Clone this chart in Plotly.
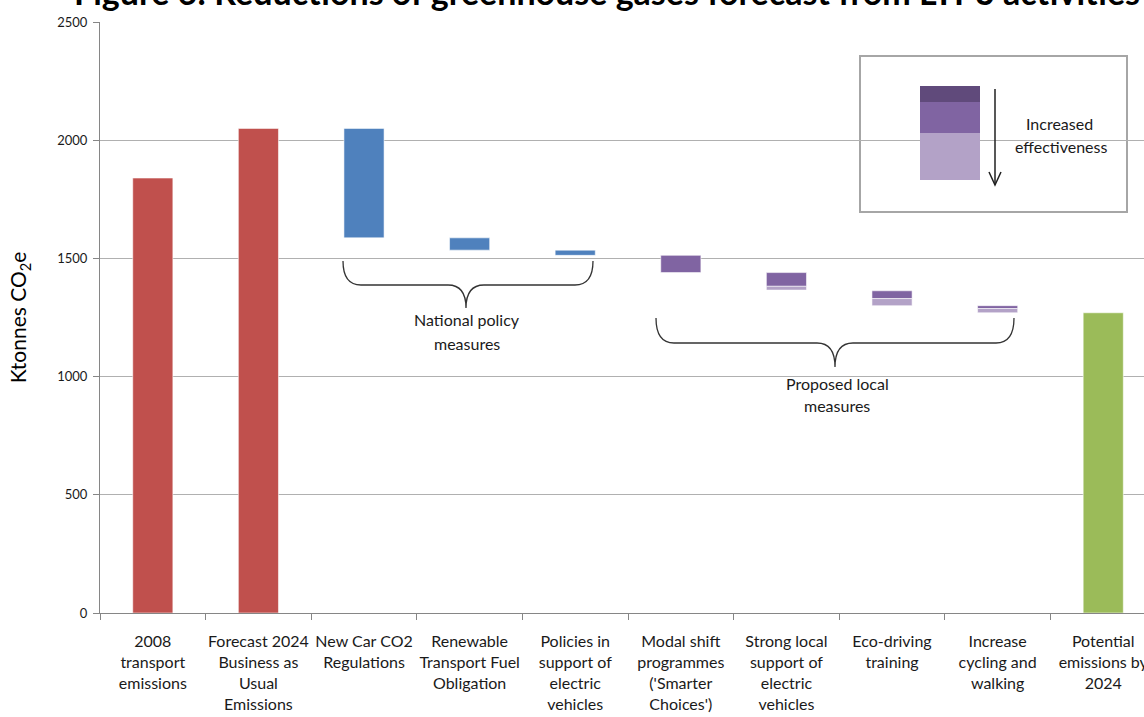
import plotly.graph_objects as go

# ---------------- data ----------------
categories = [
    "2008<br>transport<br>emissions",
    "Forecast 2024<br>Business as<br>Usual<br>Emissions",
    "New Car CO2<br>Regulations",
    "Renewable<br>Transport Fuel<br>Obligation",
    "Policies in<br>support of<br>electric<br>vehicles",
    "Modal shift<br>programmes<br>('Smarter<br>Choices')",
    "Strong local<br>support of<br>electric<br>vehicles",
    "Eco-driving<br>training",
    "Increase<br>cycling and<br>walking",
    "Potential<br>emissions by<br>2024",
]

# totals (full bars)
total_cats = [categories[0], categories[1]]
total_values = [1840, 2050]
final_cats = [categories[9]]
final_values = [1270]

# national policy measures (floating bars): top and bottom
national_cats = categories[2:5]
national_top = [2050, 1587, 1535]
national_bottom = [1587, 1535, 1513]

# proposed local measures: top, bottom of core part, bottom of lighter part
local_cats = categories[5:9]
local_top = [1513, 1440, 1363, 1300]
local_mid = [1440, 1382, 1330, 1288]
local_low_cats = categories[6:9]
local_low_top = [1382, 1330, 1288]
local_low_bottom = [1366, 1300, 1270]

y_ticks = [0, 500, 1000, 1500, 2000, 2500]

RED = "#C0504D"
BLUE = "#4F81BD"
PURPLE = "#8064A2"
PURPLE_LIGHT = "#B3A2C7"
PURPLE_DARK = "#604A7B"
GREEN = "#9BBB59"
FONT = "Lato"
BW = 0.38

fig = go.Figure()
fig.add_trace(go.Bar(x=total_cats, y=total_values, marker_color=RED, width=BW))
fig.add_trace(go.Bar(x=final_cats, y=final_values, marker_color=GREEN, width=BW))
fig.add_trace(go.Bar(x=national_cats,
                     y=[t - b for t, b in zip(national_top, national_bottom)],
                     base=national_bottom, marker_color=BLUE, width=BW))
fig.add_trace(go.Bar(x=local_cats,
                     y=[t - b for t, b in zip(local_top, local_mid)],
                     base=local_mid, marker_color=PURPLE, width=BW))
fig.add_trace(go.Bar(x=local_low_cats,
                     y=[t - b for t, b in zip(local_low_top, local_low_bottom)],
                     base=local_low_bottom, marker_color=PURPLE_LIGHT, width=BW))
fig.update_traces(marker_line_width=0.8, marker_line_color="rgba(255,255,255,0.7)")

# ---------------- layout ----------------
L, T, W, H = 100, 22, 1144, 717
B = H - 613
PW, PH = W - L, 613 - T


def px(x):
    return (x - L) / PW


def py(y):
    return (613 - y) / PH


def brace(x0, x1, xc, ytop, ymid, ytip, r=18):
    return (f"M {px(x0)},{py(ytop)} Q {px(x0)},{py(ymid)} {px(x0 + r)},{py(ymid)} "
            f"L {px(xc - r)},{py(ymid)} Q {px(xc)},{py(ymid)} {px(xc)},{py(ytip)} "
            f"Q {px(xc)},{py(ymid)} {px(xc + r)},{py(ymid)} "
            f"L {px(x1 - r)},{py(ymid)} Q {px(x1)},{py(ymid)} {px(x1)},{py(ytop)}")


shapes = [
    dict(type="path", xref="paper", yref="paper",
         path=brace(343, 593, 466, 261, 285, 308), line=dict(color="#333333", width=1.3)),
    dict(type="path", xref="paper", yref="paper",
         path=brace(656, 1014, 835, 318, 343, 367), line=dict(color="#333333", width=1.3)),
    # legend box
    dict(type="rect", xref="paper", yref="paper", x0=px(860), x1=px(1127), y0=py(212), y1=py(56),
         line=dict(color="#A6A6A6", width=2), fillcolor="white", layer="below"),
    dict(type="rect", xref="paper", yref="paper", x0=px(920), x1=px(980), y0=py(102), y1=py(86),
         line=dict(width=0), fillcolor=PURPLE_DARK),
    dict(type="rect", xref="paper", yref="paper", x0=px(920), x1=px(980), y0=py(133), y1=py(102),
         line=dict(width=0), fillcolor=PURPLE),
    dict(type="rect", xref="paper", yref="paper", x0=px(920), x1=px(980), y0=py(180), y1=py(133),
         line=dict(width=0), fillcolor=PURPLE_LIGHT),
    dict(type="path", xref="paper", yref="paper",
         path=f"M {px(995)},{py(89)} L {px(995)},{py(185)}", line=dict(color="#202020", width=1.5)),
    dict(type="path", xref="paper", yref="paper",
         path=f"M {px(989)},{py(172)} L {px(995)},{py(185)} L {px(1001)},{py(172)}",
         line=dict(color="#202020", width=1.5)),
]


def label(text, x, y, size=16):
    return dict(text=text, xref="paper", yref="paper", x=px(x), y=py(y),
                xanchor="center", yanchor="middle", showarrow=False,
                font=dict(family=FONT, size=size, color="#1a1a1a"))


annotations = [
    dict(text="<b>Figure 6: Reductions of greenhouse gases forecast from LTP3 activities</b>",
         xref="paper", yref="paper", x=px(607), y=1, xanchor="center", yanchor="bottom",
         yshift=8, showarrow=False, font=dict(family=FONT, size=34, color="black")),
    label("National policy", 467, 319),
    label("measures", 467, 343),
    label("Proposed local", 837, 383),
    label("measures", 837, 406),
    label("Increased", 1059, 124),
    label("effectiveness", 1061, 146),
]

fig.update_layout(
    width=W, height=H,
    margin=dict(l=L, r=0, t=T, b=B, autoexpand=False),
    barmode="overlay",
    showlegend=False,
    plot_bgcolor="white", paper_bgcolor="white",
    shapes=shapes, annotations=annotations,
    font=dict(family=FONT, color="#1a1a1a"),
    xaxis=dict(type="category", categoryorder="array", categoryarray=categories,
               range=[-0.5, 9.386], tickson="boundaries", ticks="outside", ticklen=6,
               tickcolor="#868686", showline=True, linecolor="#868686", linewidth=1,
               showgrid=False, tickfont=dict(family=FONT, size=16, color="#1a1a1a"),
               tickangle=0, automargin=False, ticklabelstandoff=14),
    yaxis=dict(range=[0, 2500], tickvals=y_ticks, ticks="outside", ticklen=6,
               tickcolor="#868686", showline=True, linecolor="#868686", linewidth=1,
               showgrid=True, gridcolor="#B0B0B0", gridwidth=1, zeroline=False,
               tickfont=dict(family=FONT, size=13, color="#1a1a1a"), automargin=False,
               ticklabelstandoff=3,
               title=dict(text="Ktonnes CO<sub>2</sub>e", standoff=24,
                          font=dict(family=FONT, size=21, color="black"))),
)

fig.write_html("out.html")
